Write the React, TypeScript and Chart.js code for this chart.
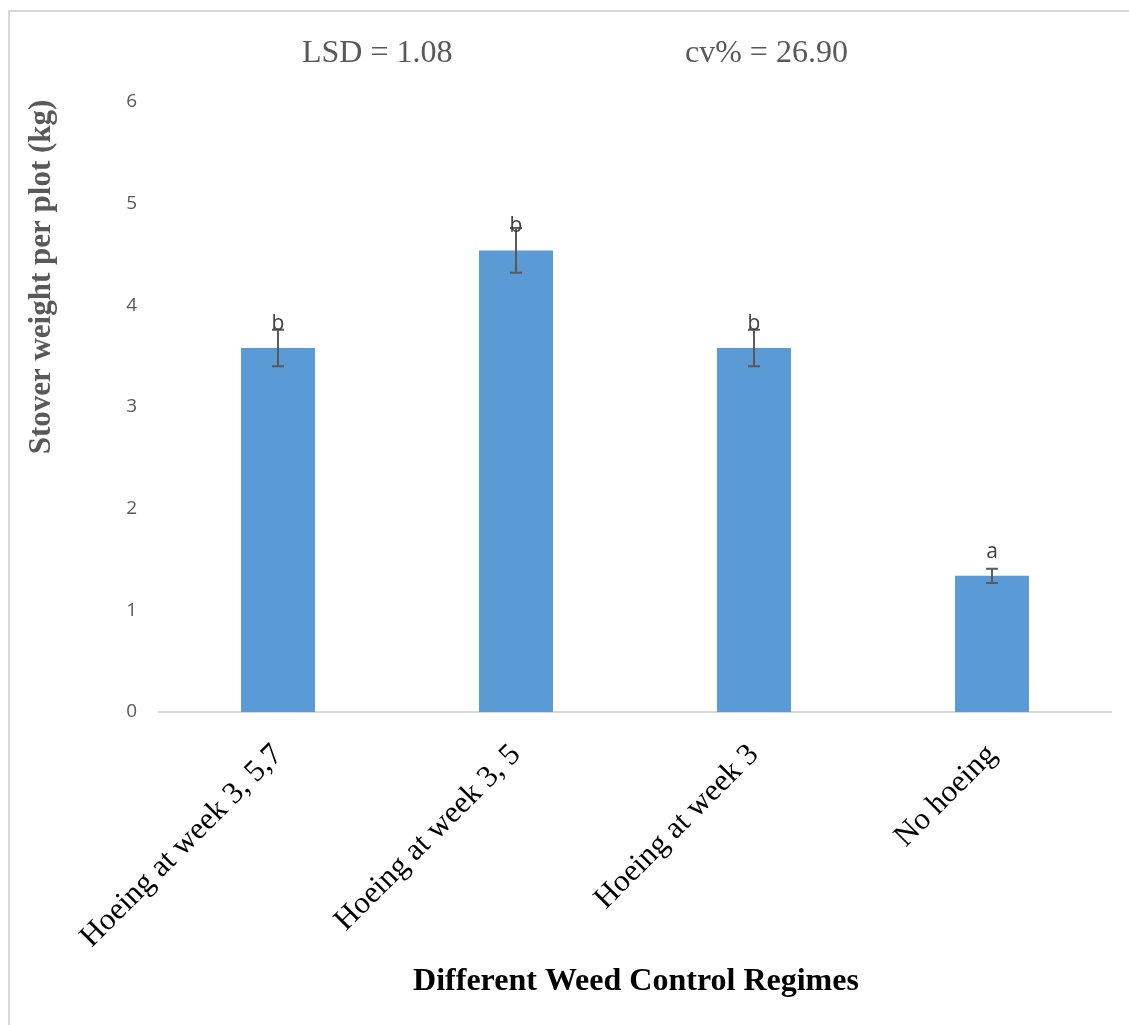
import React, { useEffect, useRef } from "react";
import { Chart, registerables } from "chart.js";

Chart.register(...registerables);

// Stover weight per plot under four weed control regimes
const categories = [
  "Hoeing at week 3, 5,7",
  "Hoeing at week 3, 5",
  "Hoeing at week 3",
  "No hoeing",
];
const stoverWeight = [3.58, 4.54, 3.58, 1.34];
const errorMargins = [0.18, 0.22, 0.18, 0.07];
const groupLetters = ["b", "b", "b", "a"];
const yTickValues = [0, 1, 2, 3, 4, 5, 6];
const lsdText = "LSD = 1.08";
const cvText = "cv% = 26.90";
const yTitle = "Stover weight per plot (kg)";
const xTitle = "Different Weed Control Regimes";

const WIDTH = 1129;
const HEIGHT = 1025;
const PLOT_LEFT = 159;
const PLOT_RIGHT = 1111;
const PLOT_TOP = 102;
const PLOT_BOTTOM = 712;

const annotations = {
  id: "annotations",
  beforeDraw(chart: any) {
    const ctx = chart.ctx;
    ctx.save();
    // partial frame around the figure
    ctx.strokeStyle = "#d9d9d9";
    ctx.lineWidth = 2;
    ctx.beginPath();
    ctx.moveTo(9, HEIGHT);
    ctx.lineTo(9, 11);
    ctx.lineTo(WIDTH, 11);
    ctx.stroke();
    ctx.restore();
  },
  afterDatasetsDraw(chart: any) {
    const ctx = chart.ctx;
    const y = chart.scales.y;
    const meta = chart.getDatasetMeta(0);
    ctx.save();
    // error bars
    ctx.strokeStyle = "#595959";
    ctx.lineWidth = 2;
    meta.data.forEach((bar: any, i: number) => {
      const v = stoverWeight[i];
      const e = errorMargins[i];
      const yTop = y.getPixelForValue(v + e);
      const yBot = y.getPixelForValue(v - e);
      const x = Math.round(bar.x);
      ctx.beginPath();
      ctx.moveTo(x, yTop);
      ctx.lineTo(x, yBot);
      ctx.moveTo(x - 6, yTop);
      ctx.lineTo(x + 6, yTop);
      ctx.moveTo(x - 6, yBot);
      ctx.lineTo(x + 6, yBot);
      ctx.stroke();
    });
    // significance letters
    ctx.fillStyle = "#404040";
    ctx.font = "21px 'Open Sans'";
    ctx.textAlign = "center";
    ctx.textBaseline = "alphabetic";
    meta.data.forEach((bar: any, i: number) => {
      const yTop = y.getPixelForValue(stoverWeight[i]);
      ctx.fillText(groupLetters[i], bar.x, yTop - 18);
    });
    // statistics header
    ctx.fillStyle = "#595959";
    ctx.font = "32px 'Liberation Serif'";
    ctx.textAlign = "left";
    ctx.fillText(lsdText, 302, 62);
    ctx.fillText(cvText, 685, 62);
    // axis titles
    ctx.font = "bold 31px 'Liberation Serif'";
    ctx.textAlign = "center";
    ctx.textBaseline = "middle";
    ctx.save();
    ctx.translate(42, 277);
    ctx.rotate(-Math.PI / 2);
    ctx.fillText(yTitle, 0, 0);
    ctx.restore();
    ctx.fillStyle = "#000000";
    ctx.font = "bold 32px 'Liberation Serif'";
    ctx.fillText(xTitle, 636, 982);
    ctx.restore();
  },
};

export default function App() {
  const canvasRef = useRef<HTMLCanvasElement | null>(null);

  useEffect(() => {
    const canvas = canvasRef.current;
    if (!canvas) return;
    const chart = new Chart(canvas, {
      type: "bar",
      data: {
        labels: categories,
        datasets: [
          {
            data: stoverWeight,
            backgroundColor: "#5b9bd5",
            borderWidth: 0,
            categoryPercentage: 1,
            barPercentage: 0.311,
          },
        ],
      },
      options: {
        animation: false,
        responsive: false,
        devicePixelRatio: 1,
        layout: {
          padding: { left: 0, top: PLOT_TOP, right: WIDTH - PLOT_RIGHT, bottom: 0 },
        },
        plugins: {
          legend: { display: false },
          tooltip: { enabled: false },
        },
        scales: {
          x: {
            grid: { display: false, drawTicks: false },
            border: { display: true, color: "#d9d9d9", width: 2 },
            ticks: {
              minRotation: 45,
              maxRotation: 45,
              autoSkip: false,
              padding: 25,
              color: "#000000",
              font: { family: "'Liberation Serif'", size: 31 },
            },
            afterFit(scale: any) {
              scale.height = HEIGHT - PLOT_BOTTOM;
            },
          },
          y: {
            min: 0,
            max: 6,
            afterBuildTicks(scale: any) {
              scale.ticks = yTickValues.map((v) => ({ value: v }));
            },
            grid: { display: false, drawTicks: false },
            border: { display: false },
            ticks: {
              padding: 22,
              color: "#595959",
              font: { family: "'Open Sans'", size: 19 },
            },
            afterFit(scale: any) {
              scale.width = PLOT_LEFT;
            },
          },
        },
      },
      plugins: [annotations],
    });
    return () => chart.destroy();
  }, []);

  return (
    <div style={{ position: "absolute", left: 0, top: 0, width: WIDTH, height: HEIGHT, background: "#ffffff" }}>
      <canvas ref={canvasRef} width={WIDTH} height={HEIGHT} style={{ display: "block" }} />
    </div>
  );
}
